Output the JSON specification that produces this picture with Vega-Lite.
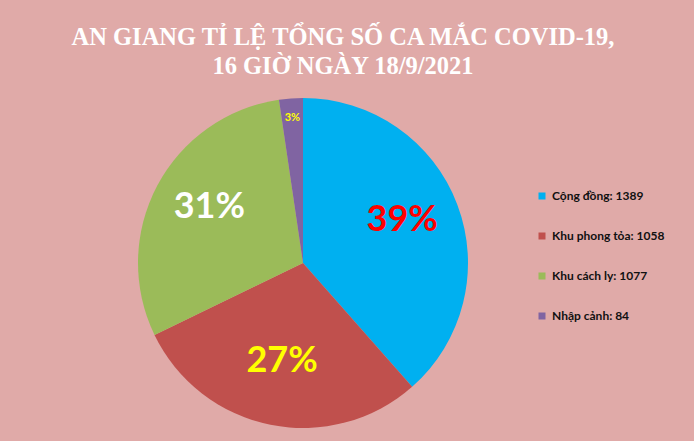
{
  "$schema": "https://vega.github.io/schema/vega-lite/v6.json",
  "autosize": {"type": "none"},
  "width": 330,
  "height": 330,
  "padding": {"left": 138, "top": 98, "right": 226, "bottom": 13},
  "background": "#E0AAA8",
  "title": {
    "text": ["AN GIANG TỈ LỆ TỔNG SỐ CA MẮC COVID-19,", "16 GIỜ NGÀY 18/9/2021"],
    "font": "Liberation Serif",
    "fontSize": 24.5,
    "fontWeight": "bold",
    "color": "#FFFFFF",
    "anchor": "middle",
    "frame": "group",
    "dx": 40,
    "offset": 19,
    "lineHeight": 29
  },
  "data": {
    "values": [
      {"stt": 1, "chu_giai": "Cộng đồng: 1389", "so_ca": 1389, "nhan": "39%"},
      {"stt": 2, "chu_giai": "Khu phong tỏa: 1058", "so_ca": 1058, "nhan": "27%"},
      {"stt": 3, "chu_giai": "Khu cách ly: 1077", "so_ca": 1077, "nhan": "31%"},
      {"stt": 4, "chu_giai": "Nhập cảnh: 84", "so_ca": 84, "nhan": "3%"}
    ]
  },
  "encoding": {
    "theta": {"field": "so_ca", "type": "quantitative", "stack": true},
    "order": {"field": "stt", "type": "quantitative"}
  },
  "layer": [
    {
      "mark": {"type": "arc", "outerRadius": 165, "stroke": null},
      "encoding": {
        "color": {
          "field": "chu_giai",
          "type": "nominal",
          "sort": ["Cộng đồng: 1389", "Khu phong tỏa: 1058", "Khu cách ly: 1077", "Nhập cảnh: 84"],
          "scale": {
            "domain": ["Cộng đồng: 1389", "Khu phong tỏa: 1058", "Khu cách ly: 1077", "Nhập cảnh: 84"],
            "range": ["#00B0F0", "#C0504D", "#9BBB59", "#8064A2"]
          },
          "legend": {
            "title": null,
            "orient": "none",
            "legendX": 398,
            "legendY": 92,
            "padding": 0,
            "symbolType": "square",
            "symbolSize": 49,
            "symbolStrokeWidth": 0,
            "labelFont": "Lato",
            "labelFontSize": 12,
            "labelFontWeight": "bold",
            "labelColor": "#111111",
            "labelOffset": 4,
            "rowPadding": 28
          }
        }
      }
    },
    {
      "mark": {"type": "text", "font": "Lato", "fontWeight": "bold", "fontSize": 36, "radius": 106, "dy": -6, "align": "center", "baseline": "middle"},
      "encoding": {
        "text": {"field": "nhan", "type": "nominal"},
        "opacity": {"condition": {"test": "datum.stt == 4", "value": 0}, "value": 1},
        "color": {
          "field": "nhan",
          "type": "nominal",
          "scale": {"domain": ["39%", "27%", "31%", "3%"], "range": ["#FF0000", "#FFFF00", "#FFFFFF", "#FFFF00"]},
          "legend": null
        }
      }
    },
    {
      "mark": {"type": "text", "font": "Lato", "fontWeight": "bold", "fontSize": 11, "radius": 145, "align": "center", "baseline": "middle", "color": "#FFFF00"},
      "encoding": {
        "text": {"field": "nhan", "type": "nominal"},
        "opacity": {"condition": {"test": "datum.stt == 4", "value": 1}, "value": 0}
      }
    }
  ],
  "resolve": {"scale": {"color": "independent"}, "legend": {"color": "independent"}},
  "config": {
    "view": {"stroke": null}
  }
}
